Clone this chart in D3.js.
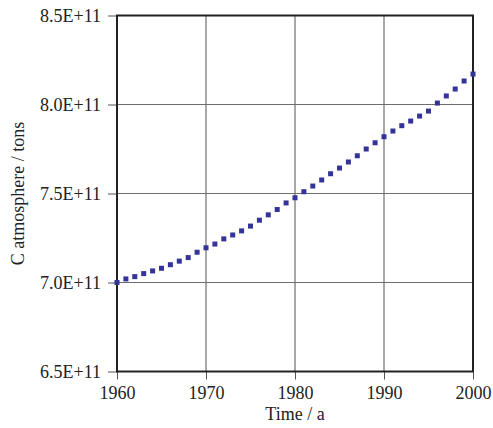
<!DOCTYPE html>
<html>
<head>
<meta charset="utf-8">
<script src="https://cdn.jsdelivr.net/npm/d3@7"></script>
<style>
  body { margin: 0; background: #fff; }
  text { font-family: "Liberation Serif", "Times New Roman", serif; }
</style>
</head>
<body>
<div id="chartContainer"></div>
<script>
// Data
const years = d3.range(1960, 2001);
const carbon = [
  7.000, 7.020, 7.033, 7.050, 7.065, 7.080, 7.100, 7.120, 7.140, 7.170,
  7.195, 7.216, 7.245, 7.267, 7.290, 7.317, 7.350, 7.380, 7.410, 7.447,
  7.476, 7.510, 7.542, 7.576, 7.611, 7.643, 7.677, 7.712, 7.750, 7.785,
  7.819, 7.851, 7.881, 7.907, 7.935, 7.963, 8.008, 8.048, 8.087, 8.132,
  8.171
].map(v => v * 1e11);
const xTicks = [1960, 1970, 1980, 1990, 2000];
const yTicks = [6.5e11, 7.0e11, 7.5e11, 8.0e11, 8.5e11];

function createChart() {
    const width = 493;
    const height = 428;
    const marginTop = 15.5;
    const marginRight = 20;
    const marginBottom = 56.5;
    const marginLeft = 117;
    const fontSize = 18;

    const x = d3.scaleLinear()
        .domain([1960, 2000])
        .range([marginLeft, width - marginRight]);

    const y = d3.scaleLinear()
        .domain([6.5e11, 8.5e11])
        .range([height - marginBottom, marginTop]);

    const svg = d3.create("svg")
        .attr("viewBox", [0, 0, width, height])
        .attr("width", width)
        .attr("height", height);

    // grid
    svg.append("g")
        .selectAll("line")
        .data(xTicks)
        .join("line")
        .attr("x1", d => x(d)).attr("x2", d => x(d))
        .attr("y1", y(8.5e11)).attr("y2", y(6.5e11))
        .attr("stroke", "#6e6e6e")
        .attr("stroke-width", 1.2);

    svg.append("g")
        .selectAll("line")
        .data(yTicks)
        .join("line")
        .attr("x1", x(1960)).attr("x2", x(2000))
        .attr("y1", d => y(d)).attr("y2", d => y(d))
        .attr("stroke", "#6e6e6e")
        .attr("stroke-width", 1.2);

    // axes
    svg.append("g")
        .attr("transform", `translate(0,${height - marginBottom})`)
        .call(d3.axisBottom(x).tickValues(xTicks).tickFormat(d3.format("d")).tickSize(8).tickPadding(7))
        .call(g => g.select(".domain").remove())
        .call(g => g.selectAll(".tick line").attr("stroke", "#555"))
        .call(g => g.selectAll("text").attr("font-size", fontSize).attr("fill", "#222")
            .attr("font-family", "Liberation Serif"));

    svg.append("g")
        .attr("transform", `translate(${marginLeft},0)`)
        .call(d3.axisLeft(y).tickValues(yTicks).tickFormat(d => (d / 1e11).toFixed(1) + "E+11").tickSize(9).tickPadding(7))
        .call(g => g.select(".domain").remove())
        .call(g => g.selectAll(".tick line").attr("stroke", "#555"))
        .call(g => g.selectAll("text").attr("font-size", fontSize).attr("fill", "#222")
            .attr("font-family", "Liberation Serif"));

    // frame
    svg.append("rect")
        .attr("x", x(1960)).attr("y", y(8.5e11))
        .attr("width", x(2000) - x(1960))
        .attr("height", y(6.5e11) - y(8.5e11))
        .attr("fill", "none")
        .attr("stroke", "#222")
        .attr("stroke-width", 2);

    // points
    svg.append("g")
        .selectAll("rect")
        .data(years)
        .join("rect")
        .attr("x", (d, i) => x(d) - 2.5)
        .attr("y", (d, i) => y(carbon[i]) - 2.5)
        .attr("width", 5)
        .attr("height", 5)
        .attr("fill", "#333399");

    // axis titles
    svg.append("text")
        .attr("x", (x(1960) + x(2000)) / 2)
        .attr("y", 420)
        .attr("text-anchor", "middle")
        .attr("font-size", fontSize)
        .attr("fill", "#222")
        .text("Time / a");

    svg.append("text")
        .attr("transform", `translate(24,${(y(6.5e11) + y(8.5e11)) / 2}) rotate(-90)`)
        .attr("text-anchor", "middle")
        .attr("font-size", fontSize)
        .attr("fill", "#222")
        .text("C atmosphere / tons");

    return svg.node();
}

document.getElementById("chartContainer").appendChild(createChart());
</script>
</body>
</html>
